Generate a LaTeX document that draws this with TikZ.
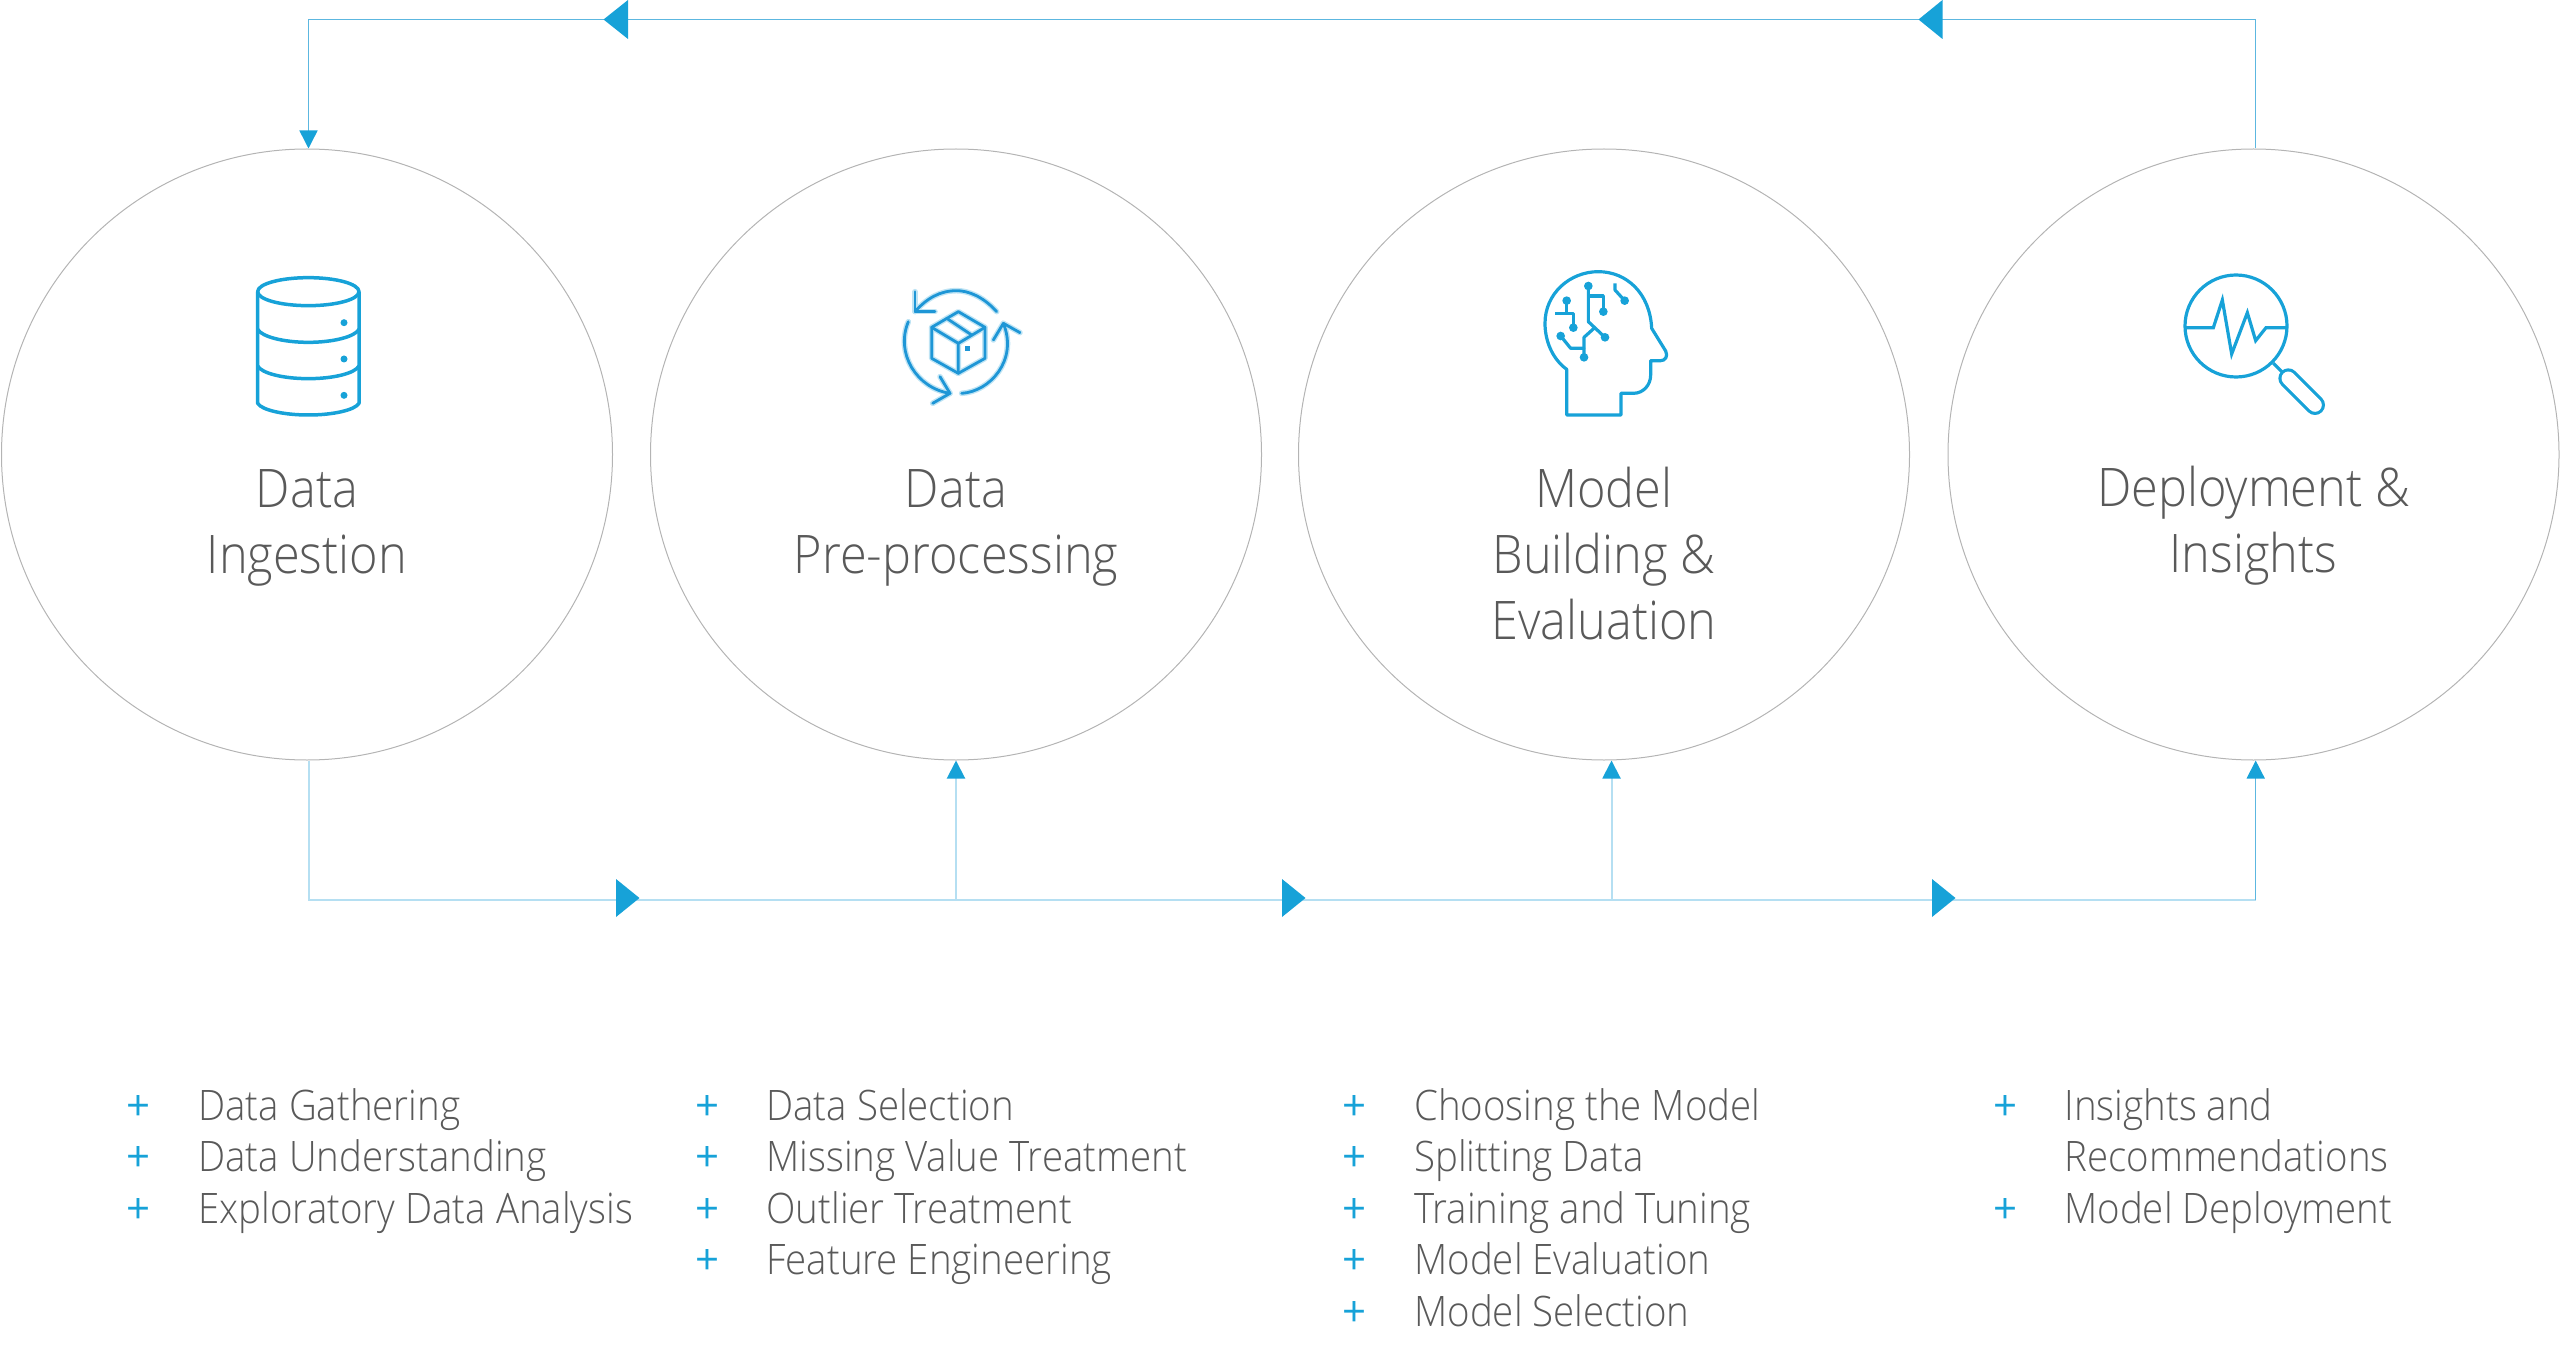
\documentclass[tikz,border=0pt]{standalone}
\usepackage{fontspec}
\setmainfont[FakeStretch=0.915]{Open Sans Light}
\newfontfamily\plusfont{Open Sans}
\usetikzlibrary{arrows.meta}
\definecolor{tip}{HTML}{17A2D8}
\definecolor{linetop}{HTML}{5CB7E0}
\definecolor{linebot}{HTML}{B5DFF2}
\definecolor{ring}{HTML}{B4B4B4}
\definecolor{txt}{HTML}{595959}
\definecolor{halo}{HTML}{BFE4F4}
\definecolor{boxblue}{HTML}{1E96D6}
\tikzset{
  ringnode/.style={circle,draw=ring,line width=0.5pt,minimum size=305.5pt,inner sep=0pt},
  title/.style={text=txt,align=center,font=\fontsize{26.6pt}{33pt}\selectfont,anchor=center},
  item/.style={text=txt,anchor=base west,inner sep=0pt,font=\fontsize{21pt}{26pt}\selectfont},
  plus/.style={text=tip,anchor=base,inner sep=0pt,font=\plusfont\fontsize{21pt}{26pt}\selectfont},
  linkT/.style={draw=linetop,line width=0.75pt},
  linkB/.style={draw=linebot,line width=1pt},
  tipT/.style={-{Triangle[length=9pt,width=9pt,color=tip]}},
  icon/.style={draw=tip,line width=1.75pt,line join=round,fill=none},
  iconthin/.style={draw=tip,line width=1.6pt,line join=round,line cap=round},
  boxh/.style={draw=halo,line width=2.8pt,line join=round,line cap=round},
  boxl/.style={draw=boxblue,line width=1.4pt,line join=round,line cap=round}
}
\begin{document}
\begin{tikzpicture}[x=0.5pt,y=-0.5pt]
\useasboundingbox (0,0) rectangle (2560,1364);
% circles
\node[ringnode] (c1) at (307,454.5) {};
\node[ringnode] (c2) at (956,454.5) {};
\node[ringnode] (c3) at (1604,454.5) {};
\node[ringnode] (c4) at (2253.5,454.5) {};
% connector junctions
\coordinate (tr) at (2255.7,19.5);
\coordinate (tl) at (308.5,19.5);
\coordinate (b1) at (308.5,900);
\coordinate (b2) at (956,900);
\coordinate (b3) at (1611.5,900);
\coordinate (b4) at (2255.7,900);
% bottom connectors
\draw[linkB] (b1 |- c1.south) -- (b1) -- (b4);
\draw[linkB,tipT] (b2) -- (c2.south);
\draw[linkB,tipT] (b3) -- (b3 |- c3.south);
\draw[linkT,tipT] (b4) -- (b4 |- c4.south);
% top connector
\draw[linkT,tipT] (tr |- c4.north) -- (tr) -- (tl) -- (tl |- c1.north);
% mid triangles
\fill[tip] (616,879) -- (639.5,898) -- (616,917) -- cycle;
\fill[tip] (1282,879) -- (1305.5,898) -- (1282,917) -- cycle;
\fill[tip] (1932,879) -- (1955.5,898) -- (1932,917) -- cycle;
\fill[tip] (628,0) -- (603.5,19.5) -- (628,39) -- cycle;
\fill[tip] (1942.5,0) -- (1918.5,19.5) -- (1942.5,39) -- cycle;
% titles
\node[title] (t1) at (307,528) {Data\\Ingestion};
\node[title] (t2) at (956,528) {Data\\Pre-processing};
\node[title] (t3) at (1604,554) {Model\\Building \&\\Evaluation};
\node[title] (t4) at (2253.5,526) {Deployment \&\\Insights};
% database icon
\begin{scope}[shift={(220,250)},scale=1/3]
\draw[icon] (265,125) ellipse [x radius=152,y radius=42];
\draw[icon] (113,125) -- (113,460) .. controls (125,480) and (190,495) .. (265,495) .. controls (340,495) and (405,480) .. (417,460) -- (417,125);
\draw[icon] (113,238) .. controls (125,260) and (190,277) .. (265,277) .. controls (340,277) and (405,260) .. (417,238);
\draw[icon] (113,348) .. controls (125,370) and (190,386) .. (265,386) .. controls (340,386) and (405,370) .. (417,348);
\fill[tip] (372,218) circle (10.5) (372,327) circle (10.5) (372,436) circle (10.5);
\end{scope}
% box icon
\begin{scope}[shift={(870,260)},scale=1/3]
\foreach \st in {boxh,boxl}{
\draw[\st] (380,155) .. controls (340,110) and (295,92) .. (260,92) .. controls (210,92) and (170,115) .. (135,155);
\draw[\st] (135,95) -- (135,155) -- (195,155);
\draw[\st] (275,400) .. controls (360,395) and (445,300) .. (400,190);
\draw[\st] (370,240) -- (400,190) -- (450,218);
\draw[\st] (115,185) .. controls (75,280) and (140,385) .. (240,400);
\draw[\st] (210,350) -- (240,400) -- (188,430);
\draw[\st] (265,155) -- (345,202) -- (345,295) -- (265,340) -- (185,295) -- (185,202) -- cycle;
\draw[\st] (185,202) -- (265,250) -- (345,202) (265,250) -- (265,340) (230,175) -- (305,225);
}
\fill[boxblue] (286,258) rectangle (300,274);
\end{scope}
% head icon
\begin{scope}[shift={(1520,250)},scale=1/3]
\draw[iconthin,line cap=butt] (140,495) -- (140,358) .. controls (95,325) and (75,270) .. (75,220) .. controls (75,130) and (150,65) .. (235,65) .. controls (320,65) and (390,130) .. (395,235) -- (437,303) .. controls (445,320) and (435,332) .. (422,332) -- (392,332) -- (392,375) .. controls (392,405) and (370,430) .. (340,430) -- (303,430) -- (303,495) -- cycle;
\draw[iconthin,line cap=butt] (205,108) -- (205,215) -- (255,262);
\draw[iconthin,line cap=butt] (205,138) -- (250,138) -- (250,185);
\draw[iconthin,line cap=butt] (140,152) -- (140,190);
\draw[iconthin,line cap=butt] (105,190) -- (160,190) -- (160,233);
\draw[iconthin,line cap=butt] (122,258) -- (152,295) -- (192,295) -- (192,322);
\draw[iconthin,line cap=butt] (192,295) -- (192,262) -- (222,235);
\draw[iconthin,line cap=butt] (285,100) -- (285,120) -- (314,152);
\fill[tip] (205,108) circle (13) (250,185) circle (13) (255,262) circle (13) (140,152) circle (13) (160,233) circle (13) (122,258) circle (13) (192,322) circle (13) (314,152) circle (13);
\end{scope}
% magnifier icon
\begin{scope}[shift={(2160,250)},scale=1/3]
\draw[iconthin] (228,228) circle (153);
\draw[iconthin,line cap=butt,line join=miter] (78,233) -- (160,233) -- (187,150) -- (215,312) -- (262,188) -- (287,272) -- (318,233) -- (380,233);
\draw[iconthin,line cap=butt] (340,340) -- (368,368);
\draw[draw=tip,line width=10pt,line cap=round] (385,385) -- (465,465);
\draw[draw=white,line width=6.8pt,line cap=round] (385,385) -- (465,465);
\end{scope}
% list 1
\node[plus] (p11) at (139,1120) {+}; \node[item] (i11) at (198,1120) {Data Gathering};
\node[plus] (p12) at (139,1171.6) {+}; \node[item] (i12) at (198,1171.6) {Data Understanding};
\node[plus] (p13) at (139,1223.2) {+}; \node[item] (i13) at (198,1223.2) {Exploratory Data Analysis};
% list 2
\node[plus] (p21) at (707,1120) {+}; \node[item] (i21) at (766,1120) {Data Selection};
\node[plus] (p22) at (707,1171.6) {+}; \node[item] (i22) at (766,1171.6) {Missing Value Treatment};
\node[plus] (p23) at (707,1223.2) {+}; \node[item] (i23) at (766,1223.2) {Outlier Treatment};
\node[plus] (p24) at (707,1274.8) {+}; \node[item] (i24) at (766,1274.8) {Feature Engineering};
% list 3
\node[plus] (p31) at (1354,1120) {+}; \node[item] (i31) at (1414,1120) {Choosing the Model};
\node[plus] (p32) at (1354,1171.6) {+}; \node[item] (i32) at (1414,1171.6) {Splitting Data};
\node[plus] (p33) at (1354,1223.2) {+}; \node[item] (i33) at (1414,1223.2) {Training and Tuning};
\node[plus] (p34) at (1354,1274.8) {+}; \node[item] (i34) at (1414,1274.8) {Model Evaluation};
\node[plus] (p35) at (1354,1326.4) {+}; \node[item] (i35) at (1414,1326.4) {Model Selection};
% list 4
\node[plus] (p41) at (2005,1120) {+}; \node[item] (i41) at (2064,1120) {Insights and};
\node[item] (i41b) at (2064,1171.6) {Recommendations};
\node[plus] (p43) at (2005,1223.2) {+}; \node[item] (i43) at (2064,1223.2) {Model Deployment};
\end{tikzpicture}
\end{document}
